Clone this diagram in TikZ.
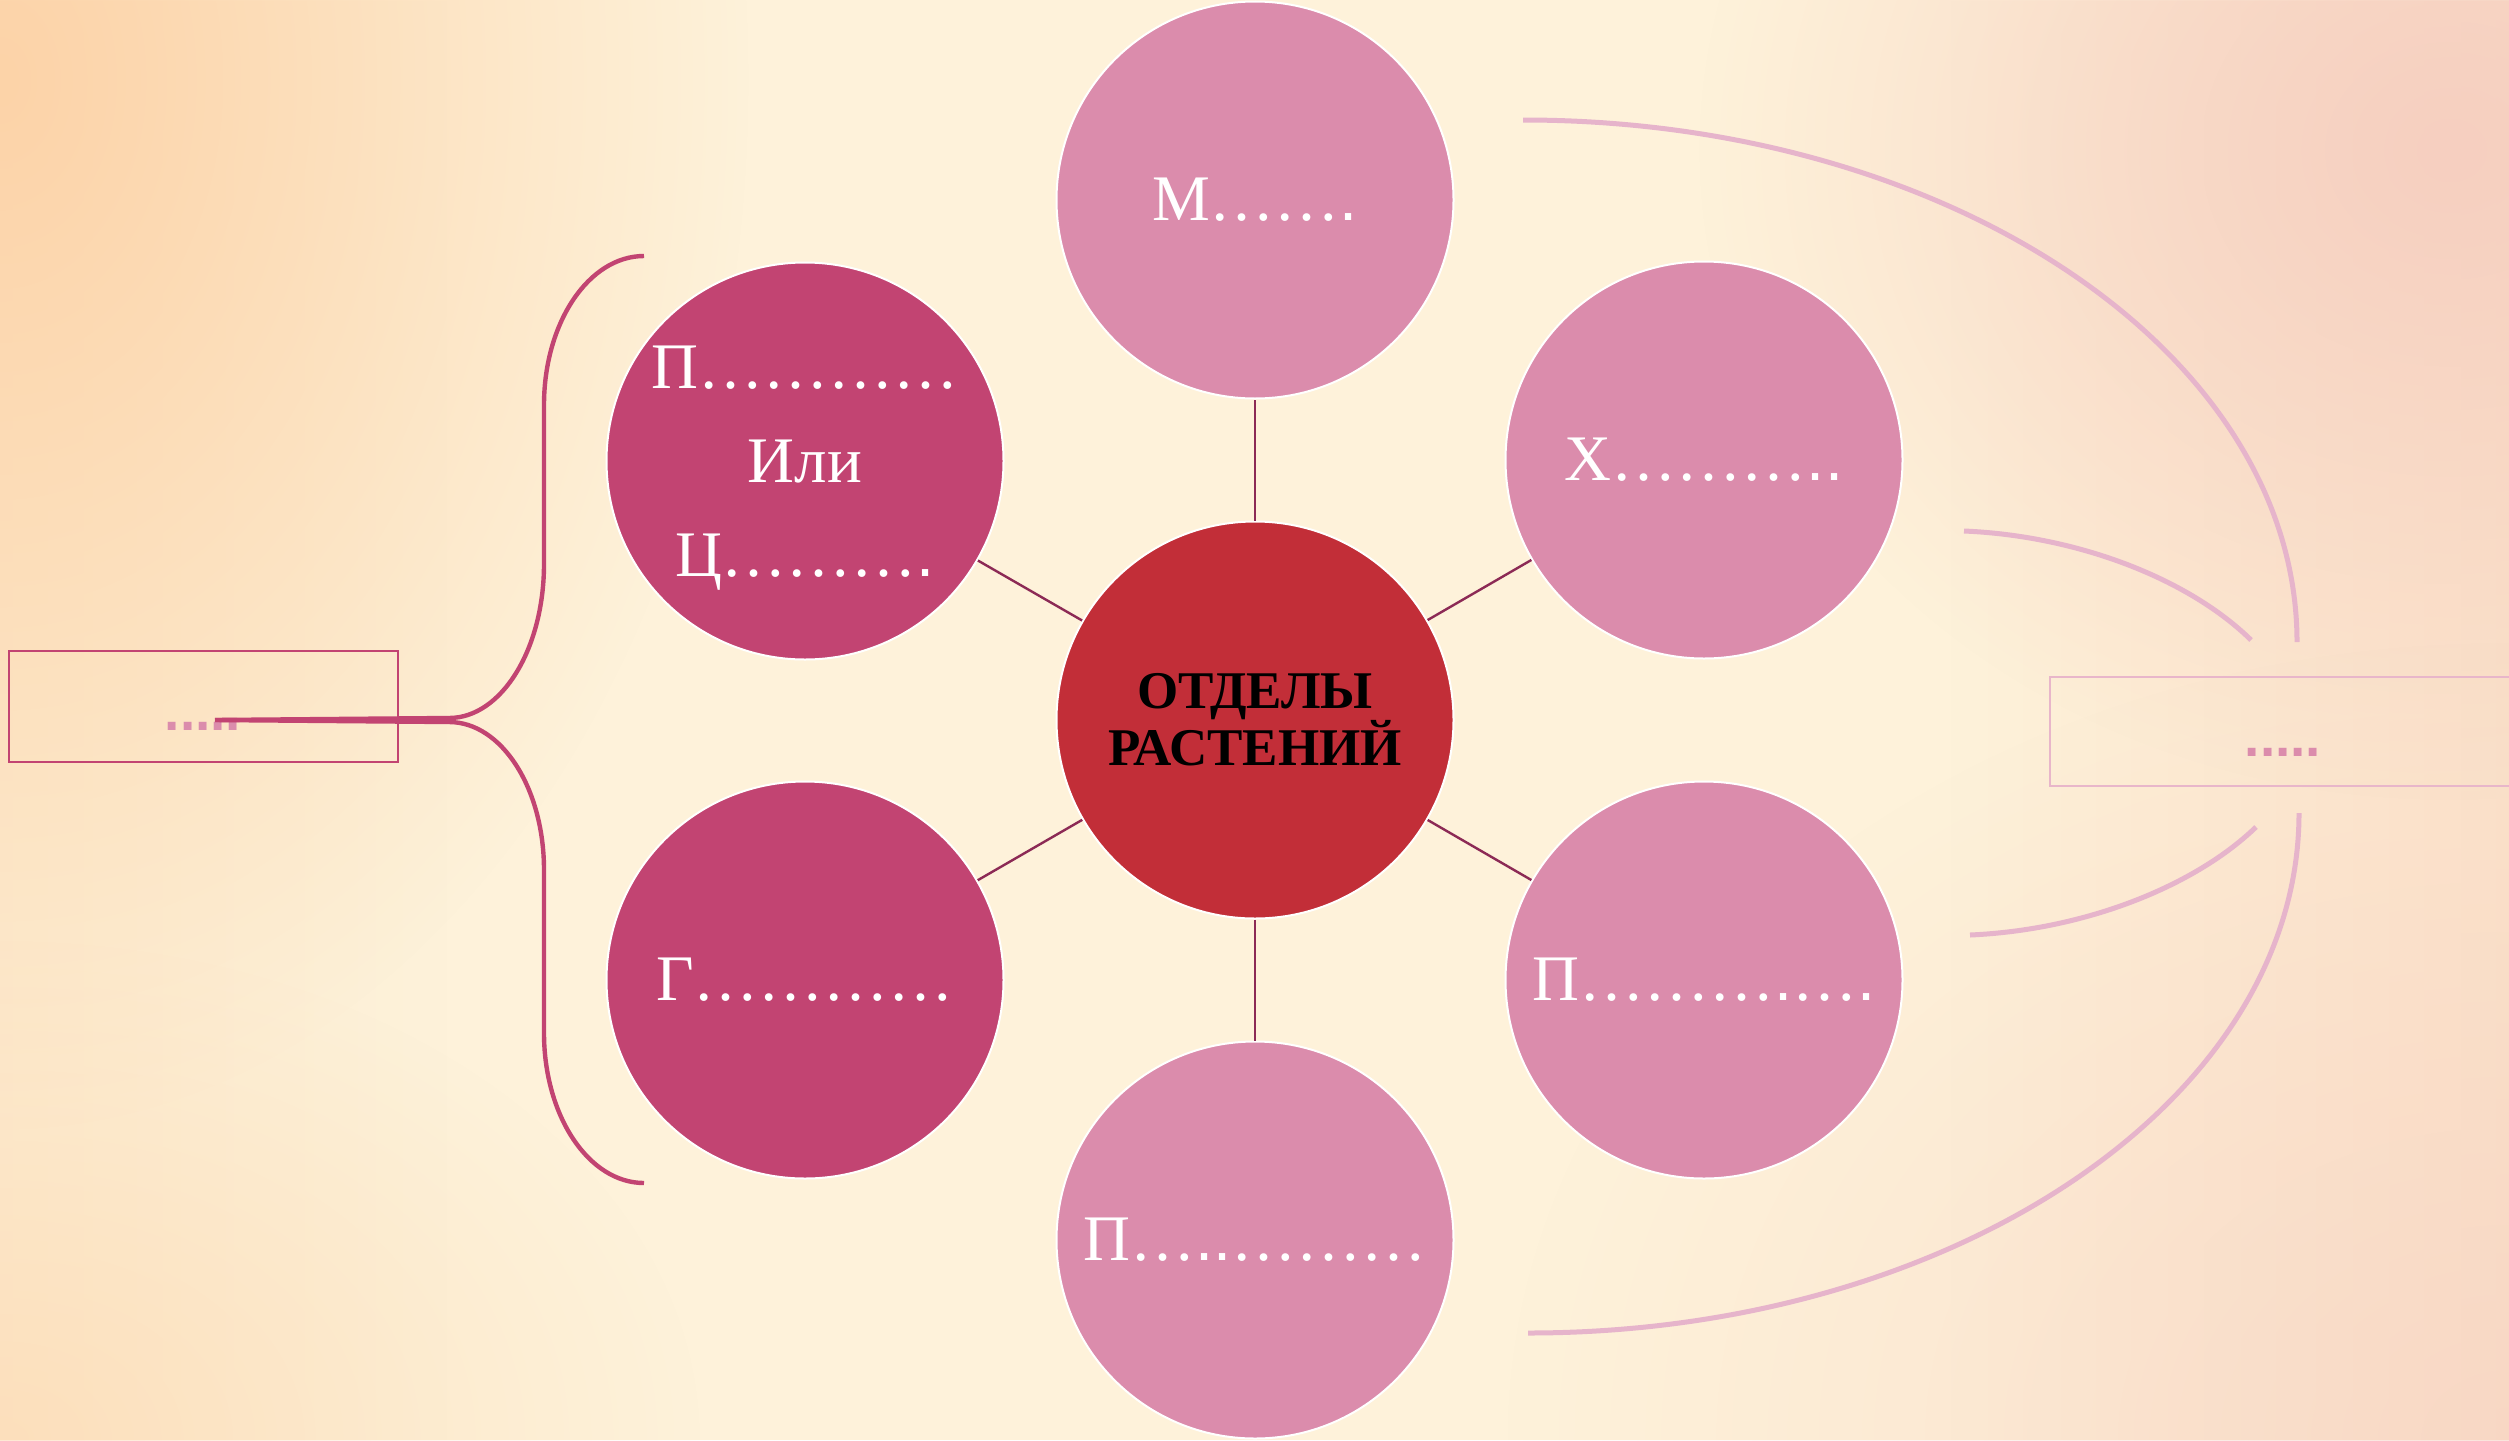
\documentclass[tikz,border=0pt]{standalone}
\usepackage{fontspec}
\setmainfont{Liberation Serif}
\newfontfamily\sqfont{Liberation Sans}
\usetikzlibrary{fadings}
\tikzfading[name=radfade, inner color=transparent!0, outer color=transparent!100]
\tikzfading[name=toright, left color=transparent!100, right color=transparent!0]
\tikzfading[name=toleft, left color=transparent!0, right color=transparent!100]
\definecolor{bgcream}{HTML}{FEF2DA}
\definecolor{orng}{HTML}{FCD3A8}
\definecolor{peach}{HTML}{FAD6BE}
\definecolor{pinkpeach}{HTML}{F6CFC0}
\definecolor{cred}{HTML}{C22E38}
\definecolor{cdark}{HTML}{C24472}
\definecolor{clight}{HTML}{DB8CAC}
\definecolor{spokec}{HTML}{8C2A55}
\definecolor{arcc}{HTML}{E6B4CB}
\definecolor{rboxc}{HTML}{E8B6CA}
\newcommand\sqd{{\sqfont.}}
\tikzset{
  circ/.style={circle, minimum size=198.5pt, inner sep=0pt, draw=white, line width=1pt,
    text=white, font=\fontsize{32.5pt}{47pt}\selectfont, align=center},
  spoke/.style={draw=spokec, line width=1.2pt},
  brace/.style={draw=cdark, line width=2.2pt},
  rarc/.style={draw=arcc, line width=2.5pt},
  dotstext/.style={font=\sqfont\bfseries\fontsize{27.5pt}{30pt}\selectfont, text=clight, anchor=base, inner sep=0pt}
}
\begin{document}
\begin{tikzpicture}[x=0.5pt, y=-0.5pt]
\clip (0,0) rectangle (2509,1440);
% background
\fill[bgcream] (0,0) rectangle (2509,1440);
\fill[orng, opacity=0.2, path fading=toleft] (0,0) rectangle (450,1440);
\fill[orng, path fading=radfade] (0,80) ellipse [x radius=750, y radius=1050];
\fill[orng, opacity=0.5, path fading=radfade] (0,1440) ellipse [x radius=700, y radius=500];
\fill[peach, opacity=0.55, path fading=toright] (1950,0) rectangle (2509,1440);
\fill[pinkpeach, path fading=radfade] (2450,150) ellipse [x radius=750, y radius=650];
\fill[pinkpeach, opacity=0.55, path fading=radfade] (2509,1440) ellipse [x radius=1000, y radius=800];

% right arcs
\coordinate (a1s) at (1523,120); \coordinate (a1e) at (2297,642);
\coordinate (a2s) at (1964,531); \coordinate (a2e) at (2251,640);
\coordinate (a3s) at (2256,827); \coordinate (a3e) at (1970,935);
\coordinate (a4s) at (2299,813); \coordinate (a4e) at (1528,1333);
\draw[rarc] (a1s) .. controls (1950.5,120) and (2297,353.7) .. (a1e);
\draw[rarc] (a2s) .. controls (2080,536) and (2190,580) .. (a2e);
\draw[rarc] (a3s) .. controls (2195,886) and (2085,930) .. (a3e);
\draw[rarc] (a4s) .. controls (2299,1100) and (1953.8,1333) .. (a4e);

% boxes
\node[draw=cdark, line width=1pt, minimum width=194.5pt, minimum height=55.5pt, inner sep=0pt] (lbox) at (203,706) {};
\node[draw=rboxc, line width=1pt, minimum width=233pt, minimum height=54.5pt, inner sep=0pt] (rbox) at (2283,731.5) {};
\node[dotstext] (ldots) at (203,730) {.....};
\node[dotstext] (rdots) at (2283,756) {.....};

% brace
\coordinate (bs) at (215,720);
\coordinate (btop) at (644,256);
\coordinate (bbot) at (644,1183);
\draw[brace] (bs) -- (449,718) .. controls (501.5,718) and (544,649) .. (544,564)
  -- (544,405) .. controls (544,322.7) and (588.8,256) .. (btop);
\draw[brace] (bs) -- (449,722) .. controls (501.5,722) and (544,788) .. (544,870)
  -- (544,1033) .. controls (544,1116) and (588.8,1183) .. (bbot);

% circles
\node[circ, fill=cred, text=black, font=\fontsize{26.5pt}{28.5pt}\selectfont\bfseries] (c) at (1255,720) {ОТДЕЛЫ\\РАСТЕНИЙ};
\node[circ, fill=clight] (m) at (1255,200) {М……\sqd};
\node[circ, fill=clight] (h) at (1704,460) {Х………\sqd\sqd};
\node[circ, fill=clight] (pr) at (1704,980) {П………\sqd…\sqd};
\node[circ, fill=clight] (pb) at (1255,1240) {П…\sqd\sqd………};
\node[circ, fill=cdark] (g) at (805,980) {Г…………};
\node[circ, fill=cdark, text depth=0pt] (pl) at (805,461) {П…………\\Или\\Ц………\sqd};

% spokes
\foreach \o in {m,h,pr,pb,g,pl} \draw[spoke] (c) -- (\o);
\end{tikzpicture}
\end{document}
